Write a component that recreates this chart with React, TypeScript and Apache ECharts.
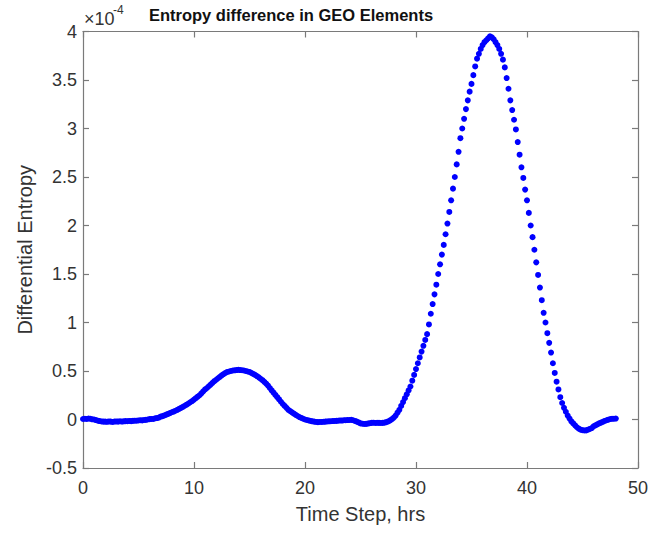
import React, { useEffect, useRef } from "react";
import * as echarts from "echarts";

// Sample spacing: 10 minutes (1/6 hr); samples run from t = 0 to t = 48 hrs
const STEP_HRS = 1 / 6;

// Differential entropy, in units of 1e-4, one value per 10-minute step
const entropyE4: number[] = [
  // 0 h
  0.005, 0.008, 0.006, 0.01, 0.008, 0.002,
  -0.0, -0.006, -0.012, -0.016, -0.02, -0.022,
  -0.022, -0.024, -0.02, -0.022, -0.025, -0.021,
  -0.02, -0.022, -0.018, -0.021, -0.019, -0.017,
  -0.018, -0.015, -0.017, -0.014, -0.012, -0.013,
  -0.01, -0.008, -0.009, -0.005, -0.004, 0.0,
  0.004, 0.006, 0.005, 0.012, 0.015, 0.02,
  0.03, 0.035, 0.042, 0.05, 0.058, 0.066,
  0.075, 0.082, 0.09, 0.1, 0.11, 0.12,
  0.13, 0.142, 0.153, 0.165, 0.178, 0.19,
  // 10 h
  0.205, 0.22, 0.235, 0.25, 0.27, 0.29,
  0.31, 0.325, 0.343, 0.36, 0.378, 0.395,
  0.41, 0.425, 0.44, 0.455, 0.468, 0.48,
  0.49, 0.495, 0.5, 0.505, 0.507, 0.51,
  0.512, 0.51, 0.508, 0.505, 0.5, 0.495,
  0.49, 0.48, 0.47, 0.46, 0.448, 0.435,
  0.42, 0.405, 0.388, 0.37, 0.35, 0.325,
  0.3, 0.277, 0.253, 0.23, 0.207, 0.183,
  0.16, 0.14, 0.12, 0.1, 0.087, 0.073,
  0.06, 0.048, 0.036, 0.025, 0.016, 0.008,
  // 20 h
  0.0, -0.005, -0.01, -0.015, -0.019, -0.022,
  -0.025, -0.027, -0.026, -0.025, -0.024, -0.022,
  -0.02, -0.019, -0.018, -0.016, -0.015, -0.014,
  -0.012, -0.01, -0.011, -0.008, -0.007, -0.006,
  -0.005, -0.004, -0.008, -0.015, -0.022, -0.03,
  -0.04, -0.043, -0.046, -0.045, -0.042, -0.038,
  -0.035, -0.033, -0.036, -0.034, -0.035, -0.036,
  -0.035, -0.032, -0.027, -0.02, -0.01, 0.003,
  0.02, 0.04, 0.07, 0.1, 0.14, 0.18,
  0.22, 0.26, 0.3, 0.34, 0.4, 0.46,
  // 30 h
  0.52, 0.58, 0.64, 0.7, 0.76, 0.82,
  0.88, 0.98, 1.09, 1.19, 1.29, 1.39,
  1.5, 1.6, 1.7, 1.8, 1.91, 2.02,
  2.14, 2.26, 2.38, 2.5, 2.63, 2.76,
  2.9, 3.0, 3.1, 3.2, 3.29, 3.38,
  3.46, 3.55, 3.64, 3.72, 3.77, 3.82,
  3.86, 3.89, 3.91, 3.93, 3.95, 3.94,
  3.92, 3.89, 3.86, 3.82, 3.77, 3.71,
  3.63, 3.52, 3.41, 3.29, 3.19, 3.09,
  2.99, 2.86, 2.73, 2.6, 2.49, 2.37,
  // 40 h
  2.26, 2.13, 2.0, 1.88, 1.75, 1.62,
  1.49, 1.36, 1.23, 1.1, 1.0, 0.89,
  0.79, 0.69, 0.58, 0.48, 0.39, 0.31,
  0.23, 0.17, 0.12, 0.08, 0.04, 0.01,
  -0.02, -0.04, -0.06, -0.08, -0.095, -0.105,
  -0.11, -0.113, -0.112, -0.105, -0.097, -0.088,
  -0.07, -0.06, -0.05, -0.04, -0.032, -0.024,
  -0.015, -0.008, -0.002, 0.005, 0.007, 0.008,
  // 48 h
  0.01,
];

const xTicks = { min: 0, max: 50, interval: 10 };
const yTicks = { min: -0.5, max: 4, interval: 0.5 };

const TITLE = "Entropy difference in GEO Elements";
const X_NAME = "Time Step, hrs";
const Y_NAME = "Differential Entropy";

export default function App() {
  const ref = useRef<HTMLDivElement>(null);

  useEffect(() => {
    if (!ref.current) return;
    const chart = echarts.init(ref.current, undefined, { renderer: "svg" });
    const font = "'Liberation Sans', Arial, Helvetica, sans-serif";
    const textColor = "#333333";
    const lineColor = "#7a7a7a";

    const axisCommon = {
      axisLine: { show: true, onZero: false, lineStyle: { color: lineColor, width: 1.2 } },
      axisTick: { show: true, inside: true, length: 6, lineStyle: { color: lineColor, width: 1.2 } },
      splitLine: { show: false },
    };

    const data = entropyE4.map((v, i) => [i * STEP_HRS, v]);

    chart.setOption({
      animation: false,
      backgroundColor: "#ffffff",
      textStyle: { fontFamily: font },
      grid: { left: 83, right: 12, top: 31.5, bottom: 65, containLabel: false },
      xAxis: [
        {
          type: "value",
          position: "bottom",
          ...xTicks,
          ...axisCommon,
          axisLabel: { show: true, color: textColor, fontSize: 18, margin: 11, fontFamily: font },
          name: X_NAME,
          nameLocation: "middle",
          nameGap: 36,
          nameTextStyle: { color: textColor, fontSize: 20, fontFamily: font },
        },
        {
          type: "value",
          position: "top",
          ...xTicks,
          ...axisCommon,
          axisLabel: { show: false },
        },
      ],
      yAxis: [
        {
          type: "value",
          position: "left",
          ...yTicks,
          ...axisCommon,
          axisLabel: {
            show: true,
            color: textColor,
            fontSize: 18,
            margin: 6,
            fontFamily: font,
            formatter: (v: number) => String(Math.round(v * 10) / 10),
          },
          name: Y_NAME,
          nameLocation: "middle",
          nameGap: 48,
          nameTextStyle: { color: textColor, fontSize: 20, fontFamily: font },
        },
        {
          type: "value",
          position: "right",
          ...yTicks,
          ...axisCommon,
          axisLabel: { show: false },
        },
      ],
      graphic: [
        {
          type: "text",
          x: 291,
          y: 15,
          style: {
            text: TITLE,
            fill: "#111",
            font: `bold 16.5px ${font}`,
            textAlign: "center",
            textVerticalAlign: "middle",
          },
        },
        {
          type: "text",
          x: 84,
          y: 19,
          style: {
            text: "×10",
            fill: textColor,
            font: `18px ${font}`,
            textAlign: "left",
            textVerticalAlign: "middle",
          },
        },
        {
          type: "text",
          x: 113,
          y: 10,
          style: {
            text: "-4",
            fill: textColor,
            font: `12px ${font}`,
            textAlign: "left",
            textVerticalAlign: "middle",
          },
        },
      ],
      series: [
        {
          type: "scatter",
          xAxisIndex: 0,
          yAxisIndex: 0,
          data,
          symbol: "circle",
          symbolSize: 6,
          itemStyle: { color: "#0000ff", opacity: 1 },
          silent: true,
        },
      ],
    });

    return () => chart.dispose();
  }, []);

  return (
    <div
      ref={ref}
      style={{ position: "fixed", left: 0, top: 0, width: 651, height: 533, background: "#fff" }}
    />
  );
}
